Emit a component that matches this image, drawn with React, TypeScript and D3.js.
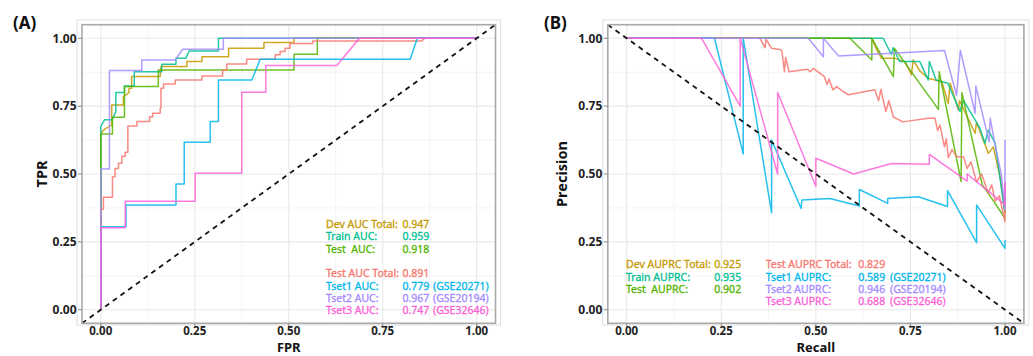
import * as d3 from "d3"

// ggplot hue palette, one colour per series (same order as the legends)
const seriesColors = ["#C49A00", "#00C094", "#53B400", "#F8766D", "#00B6EB", "#A58AFF", "#FB61D7"]

// ROC curves: [FPR, TPR]
const rocDev = [[0, 0], [0, 0.65], [0.01, 0.665], [0.029, 0.68], [0.029, 0.754], [0.06, 0.754], [0.06, 0.785], [0.075, 0.8], [0.075, 0.816], [0.082, 0.816], [0.082, 0.859], [0.158, 0.859], [0.16, 0.896], [0.229, 0.896], [0.229, 0.914], [0.269, 0.914], [0.269, 0.932], [0.34, 0.932], [0.34, 0.963], [0.434, 0.963], [0.434, 0.984], [0.514, 0.984], [0.514, 1], [1, 1]]
const rocTrain = [[0, 0], [0, 0.675], [0.01, 0.7], [0.03, 0.7], [0.04, 0.73], [0.04, 0.8], [0.063, 0.8], [0.063, 0.824], [0.089, 0.824], [0.089, 0.877], [0.162, 0.877], [0.162, 0.904], [0.2, 0.904], [0.2, 0.926], [0.226, 0.926], [0.235, 0.953], [0.313, 0.953], [0.313, 1], [1, 1]]
const rocTest = [[0, 0], [0, 0.647], [0.031, 0.647], [0.031, 0.709], [0.063, 0.709], [0.063, 0.822], [0.153, 0.822], [0.153, 0.883], [0.514, 0.883], [0.514, 0.941], [0.576, 0.941], [0.576, 1], [1, 1]]
const rocTestTotal = [[0, 0], [0, 0.37], [0.007, 0.37], [0.007, 0.414], [0.031, 0.414], [0.031, 0.49], [0.038, 0.49], [0.038, 0.52], [0.047, 0.52], [0.047, 0.54], [0.056, 0.54], [0.056, 0.565], [0.065, 0.565], [0.065, 0.58], [0.072, 0.58], [0.072, 0.677], [0.096, 0.677], [0.096, 0.693], [0.13, 0.693], [0.13, 0.711], [0.138, 0.711], [0.138, 0.724], [0.158, 0.724], [0.158, 0.742], [0.16, 0.742], [0.16, 0.816], [0.167, 0.816], [0.167, 0.832], [0.198, 0.832], [0.198, 0.846], [0.269, 0.846], [0.269, 0.861], [0.324, 0.861], [0.324, 0.883], [0.335, 0.883], [0.335, 0.905], [0.388, 0.905], [0.388, 0.923], [0.464, 0.923], [0.464, 0.939], [0.477, 0.939], [0.477, 0.951], [0.49, 0.951], [0.49, 0.963], [0.503, 0.963], [0.503, 0.981], [0.564, 0.981], [0.564, 0.99], [0.854, 0.99], [0.862, 1], [1, 1]]
const rocTset1 = [[0, 0], [0, 0.306], [0.067, 0.306], [0.067, 0.386], [0.2, 0.386], [0.2, 0.463], [0.222, 0.463], [0.222, 0.617], [0.291, 0.617], [0.291, 0.693], [0.313, 0.693], [0.313, 0.846], [0.402, 0.846], [0.424, 0.923], [0.823, 0.923], [0.842, 1], [1, 1]]
const rocTset2 = [[0, 0], [0, 0.518], [0.023, 0.518], [0.023, 0.881], [0.109, 0.881], [0.109, 0.92], [0.198, 0.92], [0.218, 0.96], [0.326, 0.96], [0.326, 1], [1, 1]]
const rocTset3 = [[0, 0], [0, 0.302], [0.065, 0.302], [0.065, 0.4], [0.251, 0.4], [0.251, 0.503], [0.375, 0.503], [0.375, 0.801], [0.439, 0.801], [0.439, 0.9], [0.628, 0.9], [0.688, 1], [1, 1]]

// PR curves: [Recall, Precision]
const prDev = [[0, 1], [0.648, 1], [0.66, 0.96], [0.674, 0.926], [0.709, 0.926], [0.736, 0.914], [0.753, 0.865], [0.757, 0.92], [0.775, 0.88], [0.797, 0.853], [0.833, 0.84], [0.85, 0.76], [0.855, 0.835], [0.877, 0.736], [0.88, 0.77], [0.921, 0.65], [0.925, 0.69], [0.956, 0.576], [0.969, 0.6], [0.987, 0.49], [1, 0.355]]
const prTrain = [[0, 1], [0.678, 1], [0.7, 0.94], [0.704, 0.965], [0.722, 0.914], [0.775, 0.914], [0.797, 0.846], [0.8, 0.914], [0.818, 0.846], [0.849, 0.834], [0.881, 0.73], [0.89, 0.772], [0.934, 0.668], [0.947, 0.613], [0.956, 0.662], [0.974, 0.613], [1, 0.355]]
const prTest = [[0, 1], [0.59, 1], [0.648, 0.92], [0.648, 1], [0.705, 0.859], [0.708, 0.963], [0.824, 0.738], [0.826, 0.877], [0.884, 0.472], [0.886, 0.8], [0.94, 0.46], [0.97, 0.4], [1, 0.337]]
const prTestTotal = [[0, 1], [0.352, 1], [0.366, 0.965], [0.368, 0.997], [0.383, 0.963], [0.401, 0.96], [0.41, 0.955], [0.417, 0.877], [0.42, 0.93], [0.429, 0.877], [0.478, 0.886], [0.485, 0.877], [0.493, 0.889], [0.522, 0.86], [0.53, 0.83], [0.535, 0.85], [0.545, 0.81], [0.555, 0.822], [0.573, 0.803], [0.586, 0.792], [0.656, 0.81], [0.666, 0.77], [0.672, 0.812], [0.685, 0.73], [0.693, 0.77], [0.705, 0.71], [0.73, 0.692], [0.797, 0.705], [0.815, 0.705], [0.822, 0.66], [0.828, 0.68], [0.84, 0.6], [0.845, 0.63], [0.85, 0.56], [0.86, 0.59], [0.872, 0.564], [0.89, 0.564], [0.9, 0.52], [0.91, 0.545], [0.925, 0.47], [0.938, 0.5], [0.956, 0.43], [0.965, 0.46], [0.974, 0.4], [0.985, 0.42], [1, 0.324], [1, 0.47]]
const prTset1 = [[0, 1], [0.232, 1], [0.308, 0.574], [0.308, 1], [0.383, 0.357], [0.383, 0.625], [0.461, 0.373], [0.463, 0.404], [0.537, 0.41], [0.615, 0.382], [0.615, 0.443], [0.69, 0.392], [0.69, 0.41], [0.771, 0.416], [0.848, 0.38], [0.848, 0.439], [0.925, 0.247], [0.925, 0.386], [1, 0.226], [1, 0.257]]
const prTset2 = [[0, 1], [0.48, 1], [0.52, 0.932], [0.52, 1], [0.56, 0.935], [0.84, 0.955], [0.872, 0.79], [0.882, 0.956], [0.921, 0.724], [0.923, 0.824], [0.958, 0.619], [0.961, 0.705], [0.972, 0.62], [0.99, 0.5], [1, 0.37], [1, 0.625]]
const prTset3 = [[0, 1], [0.198, 1], [0.3, 0.75], [0.3, 1], [0.399, 0.5], [0.399, 0.8], [0.5, 0.455], [0.5, 0.558], [0.6, 0.5], [0.7, 0.539], [0.8, 0.536], [0.8, 0.572], [0.9, 0.474], [0.9, 0.5], [1, 0.386], [1, 0.47]]

const tickValues = [0, 0.25, 0.5, 0.75, 1]
const minorValues = [0.125, 0.375, 0.625, 0.875]

const rocLabels = ["Dev AUC Total:", "Train AUC:", "Test  AUC:", "Test AUC Total:", "Tset1 AUC:", "Tset2 AUC:", "Tset3 AUC:"]
const rocValues = ["0.947", "0.959", "0.918", "0.891", "0.779", "0.967", "0.747"]
const prLabels = ["Dev AUPRC Total:", "Train AUPRC:", "Test  AUPRC:", "Test AUPRC Total:", "Tset1 AUPRC:", "Tset2 AUPRC:", "Tset3 AUPRC:"]
const prValues = ["0.925", "0.935", "0.902", "0.829", "0.589", "0.946", "0.688"]
const datasetIds = ["", "", "", "", "(GSE20271)", "(GSE20194)", "(GSE32646)"]

const FONT = "'Noto Sans', 'Open Sans', sans-serif"
const fmt = d3.format(".2f")
// keep the doubled spaces of the original labels
const keepSpaces = (s: string) => s.replace(/ {2}/g, " \u00A0")

type Pt = number[]
type LegendItem = { label: string; value: string; suffix: string; color: string; x: number; vx: number; sx: number; y: number }

function Panel({ left, right, series, falling, xTitle, yTitle, tag, tagX, yTitleX, legend }: {
  left: number; right: number; series: Pt[][]; falling: boolean; xTitle: string; yTitle: string
  tag: string; tagX: number; yTitleX: number; legend: LegendItem[]
}) {
  const x = d3.scaleLinear().domain([-0.05, 1.05]).range([left, right])
  const y = d3.scaleLinear().domain([-0.05, 1.05]).range([323.3, 24.7])
  const line = d3.line<Pt>().x(d => x(d[0])).y(d => y(d[1]))
  const top = y(1.05), bottom = y(-0.05)
  const cy = (top + bottom) / 2

  return (
    <g fontFamily={FONT}>
      <rect x={left - 5} y={20} width={right - left + 10} height={305} fill="none" stroke="#dedede" strokeWidth={1} />
      {minorValues.map(v => (
        <g key={"m" + v}>
          <line x1={x(v)} x2={x(v)} y1={top} y2={bottom} stroke="#f4f4f4" strokeWidth={1} />
          <line x1={left} x2={right} y1={y(v)} y2={y(v)} stroke="#f4f4f4" strokeWidth={1} />
        </g>
      ))}
      {tickValues.map(v => (
        <g key={"M" + v}>
          <line x1={x(v)} x2={x(v)} y1={top} y2={bottom} stroke="#e8e8e8" strokeWidth={1.1} />
          <line x1={left} x2={right} y1={y(v)} y2={y(v)} stroke="#e8e8e8" strokeWidth={1.1} />
        </g>
      ))}
      {series.map((s, i) => (
        <path key={i} d={line(s) || ""} fill="none" stroke={seriesColors[i]} strokeOpacity={0.85} strokeWidth={1.5} strokeLinejoin="round" />
      ))}
      <line x1={left} x2={right} y1={falling ? top : bottom} y2={falling ? bottom : top}
        stroke="#111" strokeWidth={1.8} strokeDasharray="5,4.5" />
      <rect x={left} y={top} width={right - left} height={bottom - top} fill="none" stroke="#a9a9a9" strokeWidth={1.6} />
      {tickValues.map(v => (
        <g key={"t" + v}>
          <line x1={left - 4} x2={left} y1={y(v)} y2={y(v)} stroke="#888" strokeWidth={1} />
          <text x={left - 5.5} y={y(v) + 4.3} textAnchor="end" fontSize={12} fontWeight="bold" fill="#222">{fmt(v)}</text>
          <line x1={x(v)} x2={x(v)} y1={bottom} y2={bottom + 4} stroke="#888" strokeWidth={1} />
          <text x={x(v)} y={bottom + 11.4} textAnchor="middle" fontSize={11.5} fontWeight="bold" fill="#222">{fmt(v)}</text>
        </g>
      ))}
      <text x={(left + right) / 2} y={352} textAnchor="middle" fontSize={13} fontWeight="bold" fill="#111">{xTitle}</text>
      <text transform={`translate(${yTitleX},${cy}) rotate(-90)`} textAnchor="middle" fontSize={14.5} fontWeight="bold" fill="#111">{yTitle}</text>
      <text x={tagX} y={29} fontSize={17} fontWeight="bold" fill="#111">{tag}</text>
      {legend.map((l, i) => (
        <g key={"l" + i} fontSize={10.5} fill={l.color} stroke={l.color} strokeWidth={0.3}>
          <text x={l.x} y={l.y + 3.8}>{keepSpaces(l.label)}</text>
          <text x={l.vx} y={l.y + 3.8}>{l.value}</text>
          {l.suffix && <text x={l.sx} y={l.y + 3.8}>{l.suffix}</text>}
        </g>
      ))}
    </g>
  )
}

export default function App() {
  const rocSeries = [rocDev, rocTrain, rocTest, rocTestTotal, rocTset1, rocTset2, rocTset3]
  const prSeries = [prDev, prTrain, prTest, prTestTotal, prTset1, prTset2, prTset3]
  const step = 12.35
  const rocRow = [0, 1, 2, 4, 5, 6, 7]
  const rocLegend: LegendItem[] = rocLabels.map((label, i) => ({
    label, value: rocValues[i], suffix: datasetIds[i], color: seriesColors[i],
    x: 326, vx: 402.5, sx: 433, y: 224 + rocRow[i] * step,
  }))
  const prLegend: LegendItem[] = prLabels.map((label, i) => {
    const col2 = i >= 3
    const row = col2 ? i - 3 : i
    return {
      label, value: prValues[i], suffix: datasetIds[i], color: seriesColors[i],
      x: col2 ? 765.7 : 626, vx: col2 ? 858.3 : 714.3, sx: 890, y: 264.5 + row * step,
    }
  })
  return (
    <svg width={1033} height={356} style={{ position: "absolute", left: 0, top: 0, background: "#fff" }}>
      <Panel left={82} right={495.5} series={rocSeries} falling={false} xTitle="FPR" yTitle="TPR"
        tag="(A)" tagX={13} yTitleX={47} legend={rocLegend} />
      <Panel left={607.8} right={1023.9} series={prSeries} falling={true} xTitle="Recall" yTitle="Precision"
        tag="(B)" tagX={544} yTitleX={566.5} legend={prLegend} />
    </svg>
  )
}
